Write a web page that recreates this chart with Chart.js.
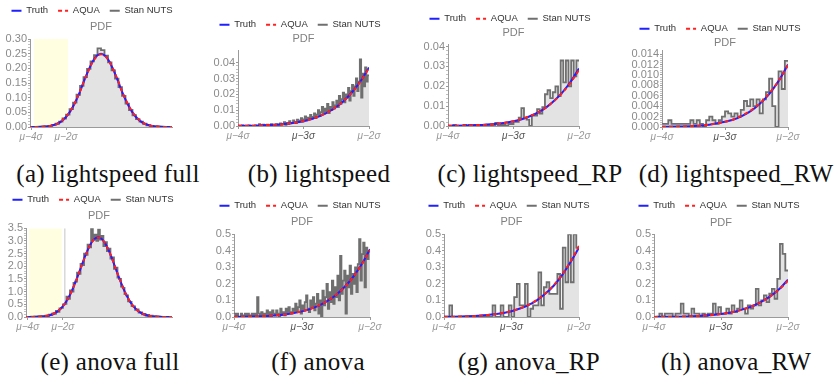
<!DOCTYPE html>
<html>
<head>
<meta charset="utf-8">
<script src="https://cdn.jsdelivr.net/npm/chart.js@4.4.1/dist/chart.umd.min.js"></script>
<style>
  body { margin:0; background:#fff; width:836px; height:380px; position:relative; overflow:hidden; }
  canvas { position:absolute; }
  .cap { position:absolute; font-family:"Liberation Serif", serif; font-size:25px; line-height:30px;
         color:#111; white-space:nowrap; transform:translateX(-50%); letter-spacing:0.3px; }
</style>
</head>
<body>
<script>
// x values are in units of sigma relative to mu
const fullX = [-4.2, -4, -3.75, -3.5, -3.25, -3, -2.75, -2.5, -2.25, -2, -1.75, -1.5, -1.25, -1, -0.75, -0.5, -0.25, 0,
               0.25, 0.5, 0.75, 1, 1.25, 1.5, 1.75, 2, 2.25, 2.5, 2.75, 3, 3.25, 3.5, 3.75, 4, 4.2];
const tailX = [-4, -3.75, -3.5, -3.25, -3, -2.875, -2.75, -2.625, -2.5, -2.375, -2.25, -2.125, -2];

// (a) lightspeed full
const truthA = [0, 0.0001, 0.0002, 0.0005, 0.0013, 0.0028, 0.0057, 0.011, 0.020, 0.034, 0.054, 0.081, 0.114, 0.152, 0.189, 0.221, 0.242, 0.250,
                0.242, 0.221, 0.189, 0.152, 0.114, 0.081, 0.054, 0.034, 0.020, 0.011, 0.0057, 0.0028, 0.0013, 0.0005, 0.0002, 0.0001, 0];
const aquaA = [0, 0.0001, 0.0002, 0.0005, 0.0013, 0.0029, 0.0058, 0.011, 0.021, 0.035, 0.055, 0.082, 0.115, 0.152, 0.188, 0.219, 0.240, 0.248,
               0.241, 0.221, 0.190, 0.153, 0.115, 0.082, 0.055, 0.035, 0.021, 0.011, 0.0058, 0.0029, 0.0013, 0.0005, 0.0002, 0.0001, 0];
const stanA = [0, 0.0002, 0.0003, 0.0006, 0.001, 0.002, 0.004, 0.007, 0.011, 0.018, 0.029, 0.042, 0.061, 0.083, 0.110, 0.140, 0.170, 0.198, 0.224, 0.245, 0.268,
               0.262, 0.243, 0.220, 0.193, 0.165, 0.136, 0.106, 0.080, 0.058, 0.040, 0.027, 0.018, 0.011, 0.006, 0.0035, 0.002, 0.001, 0.0005, 0.0002, 0, 0];

// (e) anova full
const truthE = [0.0005, 0.001, 0.003, 0.007, 0.016, 0.035, 0.072, 0.138, 0.251, 0.426, 0.681, 1.023, 1.442, 1.910, 2.378, 2.780, 3.053, 3.150,
                3.053, 2.780, 2.378, 1.910, 1.442, 1.023, 0.681, 0.426, 0.251, 0.138, 0.072, 0.035, 0.016, 0.007, 0.003, 0.001, 0.0005];
const aquaE = [0.0005, 0.001, 0.003, 0.007, 0.016, 0.036, 0.073, 0.140, 0.254, 0.430, 0.685, 1.025, 1.440, 1.905, 2.370, 2.772, 3.045, 3.140,
               3.048, 2.778, 2.380, 1.915, 1.448, 1.028, 0.684, 0.428, 0.252, 0.139, 0.072, 0.035, 0.016, 0.007, 0.003, 0.001, 0.0005];
const stanE = [0, 0, 0, 0, 0.01, 0, 0.01, 0.01, 0.02, 0.01, 0.03, 0.02, 0.05, 0.04, 0.09, 0.08, 0.14, 0.12, 0.24, 0.20, 0.34,
               0.36, 0.50, 0.52, 0.80, 0.72, 1.05, 1.00, 1.35, 1.40, 1.75, 1.70, 2.10, 2.05, 2.50, 2.45, 2.85, 2.75, 3.50, 3.05, 3.25, 3.00,
               3.45, 3.05, 3.20, 2.80, 2.95, 2.60, 2.70, 2.30, 2.35, 1.90, 1.95, 1.55, 1.50, 1.20, 1.15, 0.90, 0.85, 0.62, 0.60, 0.43, 0.42,
               0.28, 0.30, 0.17, 0.18, 0.10, 0.12, 0.06, 0.08, 0.03, 0.05, 0.01, 0.02, 0, 0.01, 0, 0, 0, 0, 0, 0, 0];

// tails (b)(c)(d) lightspeed, (f)(g)(h) anova
const truthB = [0.0001, 0.0002, 0.0006, 0.0014, 0.0030, 0.0044, 0.0062, 0.0087, 0.0120, 0.0163, 0.0218, 0.0286, 0.0370];
const aquaB  = [0.0001, 0.0002, 0.0006, 0.0014, 0.0031, 0.0044, 0.0063, 0.0088, 0.0121, 0.0163, 0.0217, 0.0284, 0.0366];
const stanB = [0, 0, 0, 0.0004, 0, 0, 0, 0, 0.0004, 0, 0, 0, 0, 0.0004, 0,
               0, 0.0012, 0.0004, 0, 0.0008, 0, 0.0004, 0.0008, 0, 0.0004, 0.0012, 0, 0.0008, 0.0004, 0.0012,
               0.0008, 0.0004, 0.0016, 0.0008, 0.0012, 0.0024, 0.0008, 0.0020, 0.0012, 0.0030, 0.0016, 0.0020, 0.0036, 0.0024, 0.0018,
               0.0040, 0.0026, 0.0034, 0.0050, 0.0028, 0.0042, 0.0060, 0.0036, 0.0052, 0.0044, 0.0070, 0.0046, 0.0058, 0.0080, 0.0050,
               0.0072, 0.0100, 0.0064, 0.0088, 0.0120, 0.0076, 0.0110, 0.0092, 0.0140, 0.0082, 0.0120, 0.0100, 0.0150, 0.0110, 0.0130,
               0.0160, 0.0120, 0.0190, 0.0140, 0.0170, 0.0210, 0.0150, 0.0200, 0.0180, 0.0240, 0.0160, 0.0220, 0.0260, 0.0190, 0.0250,
               0.0300, 0.0220, 0.0280, 0.0420, 0.0180, 0.0330, 0.0250, 0.0370, 0.0280, 0.0320];

const truthC = [0.0001, 0.0002, 0.0005, 0.0011, 0.0024, 0.0034, 0.0049, 0.0068, 0.0094, 0.0128, 0.0171, 0.0224, 0.0290];
const aquaC  = [0.0001, 0.0002, 0.0005, 0.0011, 0.0024, 0.0035, 0.0050, 0.0069, 0.0094, 0.0127, 0.0169, 0.0220, 0.0282];
const stanC = [0, 0, 0.0005, 0, 0, 0, 0.0005, 0, 0.0005, 0, 0.0005, 0, 0, 0, 0, 0.0005, 0, 0.0005, 0.0016, 0,
               0.0005, 0.0005, 0, 0.0010, 0.0010, 0.0021, 0.0021, 0.0042, 0.0090, 0.0042, 0.0032, 0, 0.0053, 0.0053, 0.0085, 0.0063, 0.0095, 0.0160, 0.0180, 0.0140,
               0.0170, 0.0200, 0.0150, 0.0330, 0.0220, 0.0330, 0.0200, 0.0330, 0.0250, 0.0330];

const truthD = [0.00003, 0.00008, 0.0002, 0.00045, 0.00099, 0.0014, 0.0020, 0.0028, 0.0039, 0.0053, 0.0071, 0.0093, 0.0120];
const aquaD  = [0.00003, 0.00008, 0.0002, 0.00046, 0.0010, 0.0014, 0.0021, 0.0029, 0.0040, 0.0054, 0.0072, 0.0093, 0.0119];
const stanD = [0.0006, 0.0006, 0.0013, 0.0006, 0.0006, 0.0006, 0.0006, 0.0006, 0.0006, 0.0013, 0.0006, 0.0013, 0.0006, 0, 0.0013, 0.0020, 0.0013, 0.0006, 0.0013, 0.0020,
               0.0030, 0.0026, 0.0020, 0.0026, 0.0020, 0.0033, 0.0050, 0.0040, 0.0053, 0.0040, 0.0053, 0.0026, 0.0053, 0.0067, 0.0093, 0.0040, 0, 0.0107, 0.0073, 0.0127];

const truthF = [0.001, 0.0027, 0.0066, 0.0154, 0.034, 0.049, 0.069, 0.097, 0.133, 0.181, 0.241, 0.317, 0.41];
const aquaF  = [0.001, 0.0028, 0.0067, 0.0156, 0.035, 0.050, 0.070, 0.098, 0.134, 0.181, 0.240, 0.315, 0.405];
const stanF = [0.02, 0, 0.02, 0, 0, 0.02, 0.01, 0, 0.02, 0, 0.02, 0, 0.01, 0.02, 0,
               0.02, 0, 0.12, 0.02, 0, 0.03, 0.01, 0.02, 0, 0.04, 0.01, 0.03, 0, 0.04, 0.02,
               0.01, 0.04, 0.02, 0, 0.05, 0.02, 0.03, 0.01, 0.05, 0.02, 0.06, 0.03, 0.02, 0.05, 0.03,
               0.08, 0.03, 0.06, 0.10, 0.02, 0.07, 0.04, 0.09, 0.13, 0.05, 0.03, 0.10, 0.06, 0.12, 0.04,
               0.08, 0.14, 0.02, 0.10, 0, 0.16, 0.07, 0.12, 0.20, 0.05, 0.15, 0.09, 0.22, 0.08, 0.18,
               0.12, 0.25, 0.10, 0.37, 0.14, 0.22, 0.28, 0.02, 0.25, 0.18, 0.31, 0.14, 0.26, 0.20, 0.30,
               0.15, 0.32, 0.47, 0.22, 0.38, 0.45, 0.18, 0.42, 0.35, 0.40];

const truthG = [0.0011, 0.0028, 0.007, 0.016, 0.035, 0.051, 0.072, 0.101, 0.140, 0.189, 0.253, 0.332, 0.42];
const aquaG  = [0.0012, 0.0030, 0.0072, 0.0165, 0.036, 0.052, 0.073, 0.103, 0.142, 0.192, 0.256, 0.336, 0.43];
const stanG = [0, 0, 0.07, 0, 0, 0, 0, 0, 0, 0, 0, 0, 0, 0, 0, 0, 0, 0, 0.07, 0,
               0, 0.07, 0, 0, 0.07, 0, 0.12, 0.20, 0.07, 0.07, 0.20, 0, 0.05, 0.07, 0.07, 0.27, 0.07, 0.18, 0.21, 0.14,
               0.14, 0.14, 0.26, 0.05, 0.42, 0.21, 0.50, 0.21, 0.50, 0.42];

const truthH = [0.0006, 0.0014, 0.0036, 0.0083, 0.018, 0.026, 0.037, 0.052, 0.071, 0.097, 0.129, 0.170, 0.225];
const aquaH  = [0.0006, 0.0014, 0.0036, 0.0084, 0.018, 0.026, 0.037, 0.052, 0.071, 0.096, 0.128, 0.168, 0.218];
const stanH = [0, 0, 0.02, 0, 0.02, 0.02, 0.02, 0, 0.02, 0.02, 0.08, 0.02, 0.02, 0, 0.05, 0.02, 0.02, 0, 0.02, 0,
               0.02, 0.02, 0.08, 0.02, 0.06, 0.02, 0.02, 0.05, 0.02, 0.07, 0.03, 0.05, 0.10, 0.05, 0.02, 0.07, 0.05, 0.07, 0.17, 0.07,
               0.10, 0.13, 0.09, 0.14, 0.17, 0.11, 0.23, 0.44, 0.38, 0.28];

// shaded region / marker line in the full plots
const shadeA = [-3.83, -1.89];
const shadeE = [-3.94, -2.06];
const markE = -1.89;

// tick values and labels
const fullTicks = [-4, -2];
const fullTickLabels = ['μ−4σ', 'μ−2σ'];
const tailTicks = [-4, -3, -2];
const tailTickLabels = ['μ−4σ', 'μ−3σ', 'μ−2σ'];
const yTicksA = [0, 0.05, 0.10, 0.15, 0.20, 0.25, 0.30];
const yTicksBC = [0, 0.01, 0.02, 0.03, 0.04];
const yTicksD = [0, 0.002, 0.004, 0.006, 0.008, 0.010, 0.012, 0.014];
const yTicksE = [0, 0.5, 1.0, 1.5, 2.0, 2.5, 3.0, 3.5];
const yTicksFGH = [0, 0.1, 0.2, 0.3, 0.4, 0.5];

const captions = ['(a) lightspeed full', '(b) lightspeed', '(c) lightspeed_RP', '(d) lightspeed_RW',
                  '(e) anova full', '(f) anova', '(g) anova_RP', '(h) anova_RW'];

const BLUE = '#1f1fff', RED = '#ff2020', GRAY = '#6f6f6f', FILL = '#e3e3e3', YELLOW = '#fffee0';

// layout of every panel (canvas box, axis width, right margin, title padding)
const panels = [
  { left: 0,   top: -4,  w: 184, h: 147, yW: 30, padR: 12, pt: 2.4, pb: 5.4, xMin: -4.06, xMax: 4.06, yMax: 0.30,
    x: fullX, truth: truthA, aqua: aquaA, stan: stanA, binStart: -4.2, binW: 0.2, ticks: fullTicks, tickLabels: fullTickLabels,
    yTicks: yTicksA, dec: 2, shade: shadeA, cap: 0, capX: 108, capY: 159 },
  { left: 205, top: 10,  w: 190, h: 132, yW: 33, padR: 26, pt: 0.4, pb: 4.4, xMin: -4, xMax: -2, yMax: 0.048,
    x: tailX, truth: truthB, aqua: aquaB, stan: stanB, binStart: -4, binW: 0.02, ticks: tailTicks, tickLabels: tailTickLabels,
    yTicks: yTicksBC, dec: 2, cap: 1, capX: 319, capY: 159 },
  { left: 415, top: 4,   w: 190, h: 138, yW: 33, padR: 26, pt: 0.7, pb: 4.1, xMin: -4, xMax: -2, yMax: 0.0413,
    x: tailX, truth: truthC, aqua: aquaC, stan: stanC, binStart: -4, binW: 0.04, ticks: tailTicks, tickLabels: tailTickLabels,
    yTicks: yTicksBC, dec: 2, cap: 2, capX: 530, capY: 159 },
  { left: 625, top: 14,  w: 190, h: 129, yW: 37, padR: 27, pt: 0.7, pb: 0.1, xMin: -4, xMax: -2, yMax: 0.0148,
    x: tailX, truth: truthD, aqua: aquaD, stan: stanD, binStart: -4, binW: 0.05, ticks: tailTicks, tickLabels: tailTickLabels,
    yTicks: yTicksD, dec: 3, cap: 3, capX: 736, capY: 159 },
  { left: 0,   top: 185, w: 186, h: 148, yW: 26, padR: 14, pt: 2.4, pb: 5.7, xMin: -4.1, xMax: 4.2, yMax: 3.5,
    x: fullX, truth: truthE, aqua: aquaE, stan: stanE, binStart: -4.2, binW: 0.1, ticks: fullTicks, tickLabels: fullTickLabels,
    yTicks: yTicksE, dec: 1, shade: shadeE, mark: markE, cap: 4, capX: 110, capY: 347 },
  { left: 205, top: 191, w: 190, h: 142, yW: 29, padR: 25, pt: 2.7, pb: 5.4, xMin: -4, xMax: -2, yMax: 0.5,
    x: tailX, truth: truthF, aqua: aquaF, stan: stanF, binStart: -4, binW: 0.02, ticks: tailTicks, tickLabels: tailTickLabels,
    yTicks: yTicksFGH, dec: 1, cap: 5, capX: 318, capY: 347 },
  { left: 414, top: 191, w: 190, h: 142, yW: 30, padR: 25, pt: 2.7, pb: 5.4, xMin: -4, xMax: -2, yMax: 0.5,
    x: tailX, truth: truthG, aqua: aquaG, stan: stanG, binStart: -4, binW: 0.04, ticks: tailTicks, tickLabels: tailTickLabels,
    yTicks: yTicksFGH, dec: 1, cap: 6, capX: 529, capY: 347 },
  { left: 624, top: 191, w: 190, h: 142, yW: 30, padR: 26, pt: 3.7, pb: 4.1, xMin: -4, xMax: -2, yMax: 0.5,
    x: tailX, truth: truthH, aqua: aquaH, stan: stanH, binStart: -4, binW: 0.04, ticks: tailTicks, tickLabels: tailTickLabels,
    yTicks: yTicksFGH, dec: 1, cap: 7, capX: 736, capY: 347 }
];

function pairs(xs, ys) {
  return xs.map((x, i) => ({ x: x, y: ys[i] }));
}

// histogram as step points: left edge of each bin, plus the right edge of the last one
function bins(start, width, vals) {
  const pts = vals.map((v, i) => ({ x: start + i * width, y: v }));
  pts.push({ x: start + vals.length * width, y: vals[vals.length - 1] });
  return pts;
}

// major y ticks plus four unlabeled minor ticks between each pair
function withMinor(major) {
  const step = (major[1] - major[0]) / 5;
  const out = [];
  major.forEach((v, i) => {
    out.push({ value: v, major: true });
    if (i < major.length - 1) for (let k = 1; k < 5; k++) out.push({ value: v + k * step, major: false });
  });
  return out;
}

// legend entries drawn as short line samples (dash kept for AQUA)
function legendItems(chart) {
  return chart.data.datasets
    .map((ds, i) => ds.label ? {
      text: ds.label, datasetIndex: i, hidden: false, pointStyle: 'line',
      strokeStyle: ds.borderColor, fillStyle: ds.borderColor, fontColor: '#333',
      lineWidth: 2, lineDash: ds.borderDash || [], lineCap: 'butt'
    } : null)
    .filter(Boolean);
}

function makeChart(p) {
  const c = document.createElement('canvas');
  c.width = p.w; c.height = p.h;
  c.style.left = p.left + 'px'; c.style.top = p.top + 'px';
  document.body.appendChild(c);

  const datasets = [
    { label: 'Truth', data: pairs(p.x, p.truth), borderColor: BLUE, borderWidth: 2, pointRadius: 0,
      cubicInterpolationMode: 'monotone', fill: false, order: 1 },
    { label: 'AQUA', data: pairs(p.x, p.aqua), borderColor: RED, borderDash: [4, 3], borderWidth: 2, pointRadius: 0,
      cubicInterpolationMode: 'monotone', fill: false, order: 0 },
    { label: 'Stan NUTS', data: bins(p.binStart, p.binW, p.stan), stepped: true, borderColor: GRAY, borderWidth: 1.8,
      backgroundColor: FILL, fill: 'origin', pointRadius: 0, order: 2 }
  ];
  if (p.shade) {
    datasets.push({ label: '', data: [{ x: p.shade[0], y: p.yMax }, { x: p.shade[1], y: p.yMax }],
      borderWidth: 0, borderColor: YELLOW, backgroundColor: YELLOW, fill: 'origin', pointRadius: 0, order: 4 });
  }
  if (p.mark !== undefined) {
    datasets.push({ label: '', data: [{ x: p.mark, y: 0 }, { x: p.mark, y: p.yMax }],
      borderColor: '#c4c4c4', borderWidth: 1, pointRadius: 0, fill: false, order: 3 });
  }

  new Chart(c, {
    type: 'line',
    data: { datasets },
    options: {
      responsive: false,
      animation: false,
      events: [],
      layout: { padding: 0 },
      scales: {
        x: {
          type: 'linear', min: p.xMin, max: p.xMax,
          afterBuildTicks: s => { s.ticks = p.ticks.map(v => ({ value: v })); },
          afterFit: s => { s.height = 16; },
          grid: { drawOnChartArea: false, drawTicks: true, tickLength: 3, color: '#9a9a9a' },
          border: { color: '#9a9a9a', width: 1 },
          ticks: {
            autoSkip: false, maxRotation: 0, padding: 1,
            font: { family: 'Liberation Sans', size: 10, style: 'italic' },
            color: ctx => ctx.tick && ctx.tick.value === -3 ? '#555' : '#999',
            callback: v => p.tickLabels[p.ticks.indexOf(v)]
          }
        },
        y: {
          min: 0, max: p.yMax,
          afterBuildTicks: s => { s.ticks = withMinor(p.yTicks).filter(t => t.value <= p.yMax + 1e-9); },
          afterFit: s => { s.width = p.yW; },
          grid: {
            drawOnChartArea: false, drawTicks: true, tickLength: 2,
            tickColor: ctx => ctx.tick && ctx.tick.major ? '#9a9a9a' : '#c0c0c0'
          },
          border: { color: '#9a9a9a', width: 1 },
          ticks: {
            autoSkip: false, padding: 1,
            font: { family: 'Liberation Sans', size: 11 },
            color: '#8a8a8a',
            callback: (v, i, ticks) => ticks[i].major ? v.toFixed(p.dec) : ''
          }
        },
        // empty right-hand box that keeps the margin right of the plot
        margin: {
          type: 'linear', position: 'right', display: true,
          afterFit: s => { s.width = p.padR; },
          grid: { display: false }, border: { display: false }, ticks: { display: false }
        }
      },
      plugins: {
        tooltip: { enabled: false },
        legend: {
          position: 'top', align: 'center', maxHeight: 22,
          labels: {
            usePointStyle: true, pointStyleWidth: 10, boxHeight: 9, padding: 10,
            font: { family: 'Liberation Sans', size: 9.5 }, color: '#333',
            generateLabels: legendItems
          }
        },
        title: {
          display: true, text: 'PDF', fullSize: false, weight: 500,
          color: '#808080', font: { family: 'Liberation Sans', size: 11, weight: 'normal' },
          padding: { top: p.pt, bottom: p.pb }
        }
      }
    }
  });

  const cap = document.createElement('div');
  cap.className = 'cap';
  cap.textContent = captions[p.cap];
  cap.style.left = p.capX + 'px';
  cap.style.top = p.capY + 'px';
  document.body.appendChild(cap);
}

panels.forEach(makeChart);
</script>
</body>
</html>
